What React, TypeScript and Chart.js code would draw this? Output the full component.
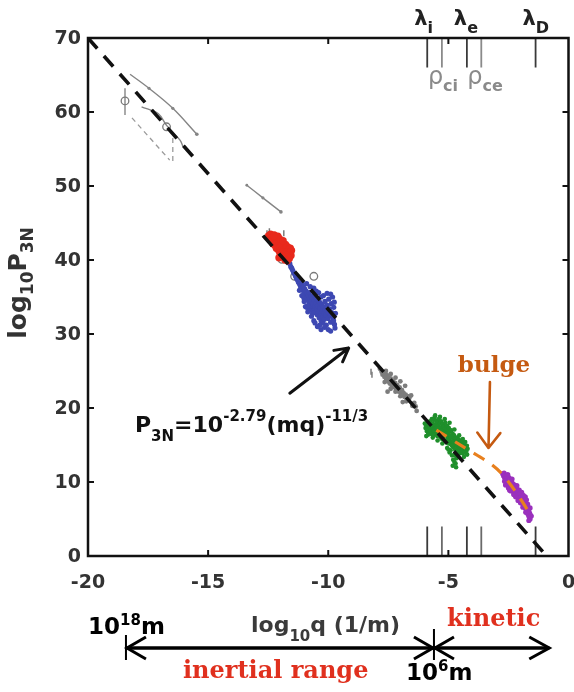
import { useEffect, useRef } from 'react';
import { Chart, registerables } from 'chart.js';

Chart.register(...registerables);

const SANS = '"DejaVu Sans", "Liberation Sans", sans-serif';
const SERIF = '"DejaVu Serif", "Liberation Serif", serif';

// axis ranges and tick values
const xTickValues = [-20, -15, -10, -5, 0];
const yTickValues = [0, 10, 20, 30, 40, 50, 60, 70];

// power-law fit: log10 P3N = -2.79 - 11/3 log10(mq)
const fitLine = [[-20, 70], [-0.91, 0]];

// kinetic-range "bulge" trend
const bulgeCurve = [[-5.5, 17.0], [-4.2, 14.4], [-3.3, 12.6], [-2.8, 11.2], [-2.2, 8.7], [-1.62, 5.8]];

// characteristic plasma scales (log10 q)
const lambdaScales = [-5.88, -4.23, -1.37]; // λi, λe, λD
const rhoScales = [-5.27, -3.63]; // ρci, ρce
const lambdaNames = ['i', 'e', 'D'];
const rhoNames = ['ci', 'ce'];

// range bar under the axis: 10^18 m, 10^6 m, end of kinetic range
const rangeBounds = [-18.42, -5.6, -0.8];

// grey archival estimates (large scales)
const greyArcA = [[-18.25, 65.1], [-17.46, 63.2], [-16.47, 60.5], [-15.47, 57.0]];
const greyArcB = [[-17.77, 60.7], [-17.08, 59.8], [-16.73, 58.2], [-16.17, 56.2], [-16.04, 55.3]];
const greyArcC = [[-13.39, 50.1], [-12.72, 48.4], [-11.97, 46.5]];
const greyDashA = [[-18.17, 59.2], [-16.6, 53.5]];
const greyDashB = [[-16.47, 56.5], [-16.47, 53.1]];
const greyErrorBar = [[-18.46, 63.2], [-18.46, 59.6]];
const greyCircles = [[-18.46, 61.5], [-16.73, 58.0], [-11.93, 40.1], [-11.4, 37.8], [-10.6, 37.8]];
const greySmall = [[-11.85, 43.6], [-12.55, 43.6], [-12.45, 43.9], [-8.22, 24.9], [-8.18, 24.5]];

const redPoints = [
  [-12.48, 43.3], [-12.4, 43.5], [-12.33, 43.1], [-12.25, 43.4], [-12.18, 43.0], [-12.1, 43.2],
  [-12.42, 42.9], [-12.35, 42.6], [-12.28, 42.8], [-12.2, 42.5], [-12.12, 42.7], [-12.04, 42.9],
  [-11.98, 42.4], [-12.3, 42.2], [-12.22, 42.0], [-12.14, 42.2], [-12.06, 41.9], [-11.98, 42.1],
  [-11.9, 42.3], [-11.84, 41.9], [-11.78, 42.1], [-12.16, 41.6], [-12.08, 41.4], [-12.0, 41.7],
  [-11.92, 41.5], [-11.85, 41.4], [-11.77, 41.6], [-11.7, 41.8], [-11.64, 41.5], [-11.58, 41.6],
  [-11.53, 41.3], [-12.02, 41.0], [-11.95, 40.8], [-11.88, 41.1], [-11.8, 40.9], [-11.72, 41.1],
  [-11.65, 40.9], [-11.58, 41.0], [-11.55, 40.6], [-11.98, 40.4], [-11.9, 40.5], [-11.82, 40.3],
  [-11.75, 40.6], [-11.68, 40.4], [-11.62, 40.2], [-11.8, 40.0], [-11.7, 39.9], [-12.05, 40.3],
  [-11.88, 42.6], [-12.26, 43.2],
];

const bluePoints = [
  [-11.6, 39.5], [-11.56, 39.1], [-11.52, 38.9], [-11.48, 38.6], [-11.44, 38.3], [-11.4, 38.1],
  [-11.36, 37.8], [-11.32, 37.5], [-11.28, 37.3], [-11.24, 37.0], [-11.2, 36.8], [-11.16, 36.5],
  [-11.12, 36.2], [-11.1, 36.9], [-11.06, 35.9], [-11.04, 36.4], [-11.0, 35.6], [-10.98, 36.1],
  [-10.95, 35.3], [-10.92, 35.8], [-10.9, 34.9], [-10.88, 35.5], [-10.85, 34.6], [-10.83, 35.2],
  [-10.8, 34.2], [-10.79, 35.6], [-10.76, 34.8], [-10.74, 33.8], [-10.72, 35.1], [-10.7, 34.4],
  [-10.68, 33.5], [-10.66, 34.9], [-10.64, 34.1], [-10.62, 33.2], [-10.6, 35.3], [-10.58, 34.5],
  [-10.56, 33.7], [-10.54, 32.9], [-10.52, 34.9], [-10.5, 34.1], [-10.48, 33.4], [-10.46, 32.6],
  [-10.44, 34.6], [-10.42, 33.8], [-10.4, 33.0], [-10.38, 32.2], [-10.36, 34.3], [-10.34, 33.5],
  [-10.32, 32.7], [-10.3, 31.8], [-10.28, 34.0], [-10.26, 33.1], [-10.24, 32.3], [-10.22, 31.5],
  [-10.2, 33.7], [-10.18, 32.8], [-10.16, 32.0], [-10.14, 34.4], [-10.12, 33.3], [-10.1, 32.5],
  [-10.08, 31.2], [-10.05, 33.9], [-10.02, 32.9], [-10.0, 32.1], [-9.98, 34.7], [-9.95, 33.4],
  [-9.92, 32.5], [-9.9, 31.6], [-9.87, 34.1], [-9.85, 32.9], [-9.82, 35.0], [-9.8, 32.2],
  [-9.77, 33.6], [-9.74, 31.3], [-9.72, 30.8], [-10.9, 33.6], [-11.02, 34.9], [-10.6, 31.8],
  [-10.35, 31.2], [-10.78, 33.2], [-11.0, 34.4], [-10.95, 33.7], [-10.85, 33.0], [-10.7, 32.4],
  [-10.55, 31.5], [-10.45, 31.0], [-10.3, 30.6], [-10.15, 30.9], [-10.0, 30.6], [-9.9, 30.4],
  [-10.6, 36.2], [-10.4, 35.6], [-10.2, 35.2], [-10.05, 35.5], [-9.9, 35.4], [-10.3, 35.0],
  [-10.5, 35.8], [-10.75, 36.4], [-10.9, 36.8], [-11.1, 35.2], [-10.85, 33.8], [-9.75, 34.3],
  [-9.7, 32.8], [-9.78, 31.8], [-11.2, 35.9], [-10.65, 32.8],
];

const greyPoints = [
  [-7.78, 24.9], [-7.74, 24.5], [-7.7, 24.8], [-7.66, 24.2], [-7.62, 24.6], [-7.58, 23.9],
  [-7.55, 24.4], [-7.52, 23.6], [-7.5, 24.1], [-7.46, 23.8], [-7.44, 23.3], [-7.4, 24.0],
  [-7.37, 23.5], [-7.34, 23.0], [-7.31, 23.7], [-7.28, 23.2], [-7.25, 22.8], [-7.22, 23.4],
  [-7.19, 22.9], [-7.16, 22.5], [-7.13, 23.1], [-7.1, 22.6], [-7.06, 22.2], [-7.03, 22.8],
  [-7.0, 22.3], [-6.96, 21.9], [-6.93, 22.4], [-6.9, 21.7], [-6.86, 22.0], [-6.82, 21.5],
  [-6.78, 21.8], [-6.74, 21.3], [-6.7, 21.6], [-6.66, 21.1], [-6.62, 21.4], [-7.53, 22.2],
  [-6.9, 20.8], [-6.42, 20.7], [-6.36, 20.2], [-6.32, 19.6], [-7.85, 25.3], [-7.6, 25.0],
  [-7.4, 24.6], [-7.2, 24.1], [-7.0, 23.6], [-6.8, 23.0], [-7.65, 23.5], [-7.4, 22.6],
  [-7.2, 22.2], [-7.0, 21.6], [-6.75, 20.9], [-6.55, 21.7], [-6.5, 20.3],
];

const greenPoints = [
  [-5.95, 17.3], [-5.93, 17.7], [-5.9, 16.9], [-5.88, 17.5], [-5.86, 18.0], [-5.84, 17.2],
  [-5.82, 17.8], [-5.8, 16.7], [-5.78, 17.4], [-5.76, 18.2], [-5.74, 17.0], [-5.72, 17.7],
  [-5.7, 16.5], [-5.69, 18.5], [-5.67, 17.3], [-5.65, 17.9], [-5.63, 16.8], [-5.61, 18.4],
  [-5.6, 17.5], [-5.58, 16.4], [-5.57, 18.8], [-5.55, 17.1], [-5.53, 17.8], [-5.51, 16.6],
  [-5.5, 18.3], [-5.48, 17.4], [-5.46, 16.2], [-5.45, 18.0], [-5.43, 16.9], [-5.41, 17.6],
  [-5.4, 18.5], [-5.38, 16.4], [-5.36, 17.2], [-5.35, 17.9], [-5.33, 16.0], [-5.31, 16.7],
  [-5.3, 18.2], [-5.28, 17.4], [-5.26, 15.8], [-5.25, 16.5], [-5.23, 17.8], [-5.21, 17.0],
  [-5.2, 16.2], [-5.18, 17.5], [-5.16, 15.6], [-5.15, 16.8], [-5.13, 18.0], [-5.11, 16.3],
  [-5.1, 17.2], [-5.08, 15.4], [-5.06, 16.6], [-5.05, 17.6], [-5.03, 15.9], [-5.01, 16.9],
  [-5.0, 15.2], [-4.98, 17.3], [-4.96, 16.2], [-4.95, 15.6], [-4.93, 16.8], [-4.91, 14.3],
  [-4.9, 15.1], [-4.88, 17.0], [-4.87, 16.0], [-4.85, 13.6], [-4.84, 15.4], [-4.82, 16.5],
  [-4.8, 13.0], [-4.79, 14.7], [-4.78, 15.8], [-4.76, 16.3], [-4.75, 12.7], [-4.74, 15.1],
  [-4.72, 14.4], [-4.71, 15.9], [-4.7, 12.5], [-4.69, 13.8], [-4.67, 15.5], [-4.66, 13.2],
  [-4.65, 14.9], [-4.63, 16.0], [-4.61, 14.2], [-4.6, 15.3], [-4.58, 14.7], [-4.56, 15.7],
  [-4.55, 14.4], [-4.53, 15.1], [-4.51, 13.9], [-4.5, 15.4], [-4.48, 14.6], [-4.46, 15.0],
  [-4.44, 14.2], [-4.42, 15.3], [-4.4, 13.9], [-4.38, 14.7], [-4.36, 15.1], [-4.34, 14.3],
  [-4.32, 14.0], [-4.3, 14.8], [-4.28, 14.5], [-4.25, 14.2], [-4.23, 14.9], [-4.2, 14.5],
  [-5.6, 17.0], [-5.4, 17.0], [-5.2, 16.7], [-5.0, 16.4], [-4.8, 15.4], [-4.6, 14.9],
  [-5.7, 17.6], [-5.5, 17.2], [-5.3, 16.9], [-5.1, 16.5], [-4.9, 16.1], [-4.7, 15.0],
  [-5.85, 16.4], [-5.65, 16.0], [-5.45, 15.6], [-5.25, 15.2], [-5.05, 14.6], [-4.95, 14.0],
  [-4.85, 14.9], [-5.55, 19.0], [-5.35, 18.8], [-5.15, 18.5], [-4.95, 18.0], [-4.75, 17.1],
  [-4.55, 16.3], [-4.4, 15.8], [-4.3, 15.4], [-4.22, 13.7], [-4.35, 13.4], [-4.6, 13.5],
  [-4.75, 13.6], [-5.0, 14.4], [-5.92, 16.2], [-5.98, 17.9], [-4.82, 12.2], [-4.68, 12.0],
];

const purplePoints = [
  [-2.74, 11.1], [-2.7, 10.8], [-2.68, 11.2], [-2.65, 10.5], [-2.62, 10.9], [-2.6, 10.2],
  [-2.58, 10.7], [-2.55, 10.4], [-2.53, 11.0], [-2.5, 10.0], [-2.48, 10.6], [-2.46, 9.7],
  [-2.44, 10.3], [-2.42, 9.9], [-2.4, 9.4], [-2.38, 10.1], [-2.36, 9.6], [-2.34, 9.1],
  [-2.32, 9.8], [-2.3, 9.3], [-2.28, 8.9], [-2.26, 9.6], [-2.24, 9.1], [-2.22, 8.6],
  [-2.2, 9.4], [-2.18, 8.8], [-2.16, 8.3], [-2.14, 9.0], [-2.12, 8.5], [-2.1, 8.0],
  [-2.08, 8.7], [-2.06, 8.2], [-2.04, 7.7], [-2.02, 8.4], [-2.0, 7.9], [-1.98, 7.4],
  [-1.96, 8.1], [-1.94, 7.6], [-1.92, 7.1], [-1.9, 7.8], [-1.88, 7.3], [-1.86, 6.8],
  [-1.84, 7.5], [-1.82, 6.9], [-1.8, 6.5], [-1.78, 7.1], [-1.76, 6.2], [-1.74, 6.7],
  [-1.72, 5.9], [-1.7, 6.4], [-1.68, 5.6], [-1.66, 6.1], [-1.64, 5.3], [-1.62, 5.8],
  [-1.6, 5.0], [-1.58, 5.5], [-2.56, 9.8], [-2.3, 8.7], [-2.05, 8.9], [-1.85, 7.9],
  [-2.62, 9.6], [-2.5, 9.2], [-2.4, 8.8], [-2.2, 8.0], [-2.0, 7.2], [-1.95, 8.6],
  [-1.8, 8.0], [-1.75, 7.6], [-2.15, 9.5], [-2.35, 10.4], [-2.45, 8.9], [-2.28, 8.3],
  [-2.1, 7.5], [-1.9, 6.6], [-1.7, 7.0], [-1.6, 6.5], [-1.78, 5.9], [-2.52, 9.5],
  [-2.66, 10.1], [-1.65, 4.8], [-1.55, 5.4], [-2.0, 8.5], [-1.88, 8.2],
];

// annotation arrows in data coordinates
const formulaArrow = [[-11.6, 22.0], [-9.15, 28.1]];
const bulgeArrow = [[-3.27, 23.5], [-3.33, 14.6]];

type Pt = number[];
const toXY = (pts: Pt[]) => pts.map(([x, y]) => ({ x, y }));

type Run = { text: string; size: number; dy?: number; weight?: string; color?: string };

function runsWidth(ctx: CanvasRenderingContext2D, runs: Run[], weight: string, family: string) {
  let w = 0;
  for (const r of runs) {
    ctx.font = `${r.weight ?? weight} ${r.size}px ${family}`;
    w += ctx.measureText(r.text).width;
  }
  return w;
}

function drawRuns(
  ctx: CanvasRenderingContext2D,
  runs: Run[],
  x: number,
  y: number,
  opt: { weight?: string; family?: string; color?: string; align?: 'left' | 'center' | 'right' } = {}
) {
  const weight = opt.weight ?? 'bold';
  const family = opt.family ?? SANS;
  const w = runsWidth(ctx, runs, weight, family);
  let cx = opt.align === 'center' ? x - w / 2 : opt.align === 'right' ? x - w : x;
  ctx.textAlign = 'left';
  ctx.textBaseline = 'alphabetic';
  for (const r of runs) {
    ctx.font = `${r.weight ?? weight} ${r.size}px ${family}`;
    ctx.fillStyle = r.color ?? opt.color ?? '#000';
    ctx.fillText(r.text, cx, y + (r.dy ?? 0));
    cx += ctx.measureText(r.text).width;
  }
}

function drawArrow(
  ctx: CanvasRenderingContext2D,
  x0: number, y0: number, x1: number, y1: number,
  color: string, width: number, head: number, spread: number
) {
  const ang = Math.atan2(y1 - y0, x1 - x0);
  ctx.save();
  ctx.strokeStyle = color;
  ctx.lineWidth = width;
  ctx.lineCap = 'round';
  ctx.lineJoin = 'round';
  ctx.beginPath();
  ctx.moveTo(x0, y0);
  ctx.lineTo(x1, y1);
  ctx.moveTo(x1 - head * Math.cos(ang - spread), y1 - head * Math.sin(ang - spread));
  ctx.lineTo(x1, y1);
  ctx.lineTo(x1 - head * Math.cos(ang + spread), y1 - head * Math.sin(ang + spread));
  ctx.stroke();
  ctx.restore();
}

const annotationPlugin = {
  id: 'figureAnnotations',
  afterDraw(chart: any) {
    const { ctx, chartArea: a, scales } = chart;
    const xs = scales.x;
    const ys = scales.y;
    const px = (v: number) => xs.getPixelForValue(v);
    const py = (v: number) => ys.getPixelForValue(v);
    ctx.save();

    // frame and inward ticks
    ctx.strokeStyle = '#111';
    ctx.lineWidth = 2.5;
    ctx.strokeRect(a.left, a.top, a.right - a.left, a.bottom - a.top);
    ctx.lineWidth = 2;
    ctx.beginPath();
    for (const v of xTickValues.slice(1, -1)) {
      const x = px(v);
      ctx.moveTo(x, a.bottom);
      ctx.lineTo(x, a.bottom - 6);
      ctx.moveTo(x, a.top);
      ctx.lineTo(x, a.top + 6);
    }
    for (const v of yTickValues.slice(1, -1)) {
      const y = py(v);
      ctx.moveTo(a.left, y);
      ctx.lineTo(a.left + 6, y);
      ctx.moveTo(a.right, y);
      ctx.lineTo(a.right - 6, y);
    }
    ctx.stroke();

    // tick labels
    ctx.fillStyle = '#333';
    ctx.font = `bold 19px ${SANS}`;
    ctx.textBaseline = 'middle';
    ctx.textAlign = 'center';
    for (const v of xTickValues) ctx.fillText(String(v), px(v), 583);
    ctx.textAlign = 'right';
    for (const v of yTickValues) ctx.fillText(String(v), a.left - 7, py(v) + 1.5);

    // axis titles
    drawRuns(ctx, [
      { text: 'log', size: 22 },
      { text: '10', size: 15, dy: 9 },
      { text: 'q (1/m)', size: 22 },
    ], 251, 632, { color: '#3a3a3a' });

    ctx.save();
    ctx.translate(26, 283);
    ctx.rotate(-Math.PI / 2);
    drawRuns(ctx, [
      { text: 'log', size: 25 },
      { text: '10', size: 17, dy: 7 },
      { text: 'P', size: 25 },
      { text: '3N', size: 17, dy: 7 },
    ], 0, 0, { color: '#333', align: 'center' });
    ctx.restore();

    // characteristic scale labels
    lambdaScales.forEach((v, i) => {
      drawRuns(ctx, [
        { text: 'λ', size: 21 },
        { text: lambdaNames[i], size: 16, dy: 8 },
      ], px(v) - 13, 25, { color: '#222' });
    });
    rhoScales.forEach((v, i) => {
      drawRuns(ctx, [
        { text: 'ρ', size: 24, weight: 'normal' },
        { text: rhoNames[i], size: 16, dy: 7 },
      ], px(v) - 14, 84, { color: '#8a8a8a' });
    });

    // fit formula and its arrow
    drawRuns(ctx, [
      { text: 'P', size: 22 },
      { text: '3N', size: 15, dy: 9 },
      { text: '=10', size: 22 },
      { text: '-2.79', size: 15, dy: -11 },
      { text: '(mq)', size: 22 },
      { text: '-11/3', size: 15, dy: -11 },
    ], 135, 432, { color: '#111' });
    drawArrow(ctx, px(formulaArrow[0][0]), py(formulaArrow[0][1]), px(formulaArrow[1][0]), py(formulaArrow[1][1]), '#111', 3, 15, 0.5);

    // bulge label and arrow
    drawRuns(ctx, [{ text: 'bulge', size: 23 }], 494, 372, { family: SERIF, color: '#c55a11', align: 'center' });
    drawArrow(ctx, px(bulgeArrow[0][0]), py(bulgeArrow[0][1]), px(bulgeArrow[1][0]), py(bulgeArrow[1][1]), '#c55a11', 2.6, 19, 0.65);

    // range bar below the axis
    const yb = 648;
    const [l, m, r] = rangeBounds.map(px);
    ctx.strokeStyle = '#000';
    ctx.lineCap = 'butt';
    ctx.lineJoin = 'miter';
    ctx.lineWidth = 3.5;
    ctx.beginPath();
    ctx.moveTo(l, yb);
    ctx.lineTo(r, yb);
    ctx.stroke();
    ctx.lineWidth = 3;
    ctx.beginPath();
    ctx.moveTo(l + 20, yb - 11); ctx.lineTo(l + 1, yb); ctx.lineTo(l + 20, yb + 11);
    ctx.moveTo(m - 20, yb - 11); ctx.lineTo(m - 1, yb); ctx.lineTo(m - 20, yb + 11);
    ctx.moveTo(m + 20, yb - 11); ctx.lineTo(m + 1, yb); ctx.lineTo(m + 20, yb + 11);
    ctx.moveTo(r - 20, yb - 11); ctx.lineTo(r, yb); ctx.lineTo(r - 20, yb + 11);
    ctx.stroke();
    ctx.lineWidth = 2;
    ctx.beginPath();
    ctx.moveTo(l, yb - 13); ctx.lineTo(l, yb + 12);
    ctx.moveTo(m, yb - 19); ctx.lineTo(m, yb + 12);
    ctx.stroke();

    drawRuns(ctx, [
      { text: '10', size: 23 },
      { text: '18', size: 15, dy: -9 },
      { text: 'm', size: 23 },
    ], 88, 634, { color: '#000' });
    drawRuns(ctx, [
      { text: '10', size: 23 },
      { text: '6', size: 15, dy: -9 },
      { text: 'm', size: 23 },
    ], 406, 680, { color: '#000' });
    drawRuns(ctx, [{ text: 'kinetic', size: 24 }], 447, 626, { family: SERIF, color: '#e0301e' });
    drawRuns(ctx, [{ text: 'inertial range', size: 24 }], 183, 678, { family: SERIF, color: '#e0301e' });

    ctx.restore();
  },
};

function scatterSet(pts: Pt[], color: string, radius: number) {
  return {
    data: toXY(pts),
    showLine: false,
    pointRadius: radius,
    pointBackgroundColor: color,
    pointBorderWidth: 0,
    pointHoverRadius: radius,
  };
}

function lineSet(pts: Pt[], color: string, width: number, extra: any = {}) {
  return {
    data: toXY(pts),
    showLine: true,
    borderColor: color,
    borderWidth: width,
    pointRadius: 0,
    fill: false,
    ...extra,
  };
}

export default function App() {
  const canvasRef = useRef<HTMLCanvasElement | null>(null);

  useEffect(() => {
    const canvas = canvasRef.current;
    if (!canvas) return;

    const grey = '#858585';
    const scaleSegments: any[] = [];
    lambdaScales.forEach((v) => {
      scaleSegments.push(lineSet([[v, 70], [v, 66]], '#3a3a3a', 1.8));
      scaleSegments.push(lineSet([[v, 0], [v, 4]], '#3a3a3a', 1.8));
    });
    rhoScales.forEach((v) => {
      scaleSegments.push(lineSet([[v, 70], [v, 66]], '#8a8a8a', 1.8));
      scaleSegments.push(lineSet([[v, 0], [v, 4]], '#6a6a6a', 1.8));
    });

    // listed bottom-to-top
    const layers: any[] = [
      ...scaleSegments,
      lineSet(greyArcA, grey, 1.4, { tension: 0.35, pointRadius: [0, 1.6, 1.6, 1.8], pointBackgroundColor: grey, pointBorderWidth: 0 }),
      lineSet(greyArcB, grey, 1.4, { tension: 0.35 }),
      lineSet(greyArcC, grey, 1.4, { tension: 0.35, pointRadius: [1.4, 1.6, 1.8], pointBackgroundColor: grey, pointBorderWidth: 0 }),
      lineSet(greyDashA, '#9a9a9a', 1.3, { borderDash: [5, 4] }),
      lineSet(greyDashB, '#9a9a9a', 1.3, { borderDash: [5, 4] }),
      lineSet(greyErrorBar, grey, 1.4),
      {
        data: toXY(greyCircles),
        showLine: false,
        pointRadius: 3.8,
        pointBackgroundColor: 'rgba(255,255,255,0)',
        pointBorderColor: '#7a7a7a',
        pointBorderWidth: 1.3,
      },
      {
        data: toXY(greySmall),
        showLine: false,
        pointStyle: 'line',
        rotation: 90,
        pointRadius: 3,
        pointBorderColor: '#7a7a7a',
        pointBorderWidth: 1.5,
      },
      scatterSet(bluePoints, '#3d48b2', 2.6),
      scatterSet(redPoints, '#e8291c', 3.7),
      scatterSet(greyPoints, '#7c7c7c', 2.4),
      scatterSet(greenPoints, '#1f8f2b', 2.3),
      scatterSet(purplePoints, '#9a30bd', 2.6),
      lineSet(bulgeCurve, '#e8801e', 3.2, { tension: 0.3, borderDash: [12, 10] }),
      lineSet(fitLine, '#111', 3.6, { borderDash: [14, 10] }),
    ];
    const datasets = layers.map((d, i) => ({ ...d, order: layers.length - i }));

    const chart = new Chart(canvas, {
      type: 'scatter',
      data: { datasets },
      options: {
        responsive: false,
        animation: false,
        devicePixelRatio: 1,
        events: [],
        layout: { padding: { left: 0, right: 5, top: 38, bottom: 0 } },
        plugins: {
          legend: { display: false },
          tooltip: { enabled: false },
        },
        scales: {
          x: {
            type: 'linear',
            min: -20,
            max: 0,
            grid: { display: false, drawTicks: false },
            border: { display: false },
            ticks: { display: false, stepSize: 5 },
            afterFit: (s: any) => { s.height = 136; },
          },
          y: {
            type: 'linear',
            min: 0,
            max: 70,
            grid: { display: false, drawTicks: false },
            border: { display: false },
            ticks: { display: false, stepSize: 10 },
            afterFit: (s: any) => { s.width = 88; },
          },
        },
      },
      plugins: [annotationPlugin],
    } as any);

    return () => chart.destroy();
  }, []);

  return (
    <div style={{ position: 'absolute', left: 0, top: 0, width: 574, height: 692, background: '#fff' }}>
      <canvas ref={canvasRef} width={574} height={692} style={{ width: 574, height: 692, display: 'block' }} />
    </div>
  );
}
